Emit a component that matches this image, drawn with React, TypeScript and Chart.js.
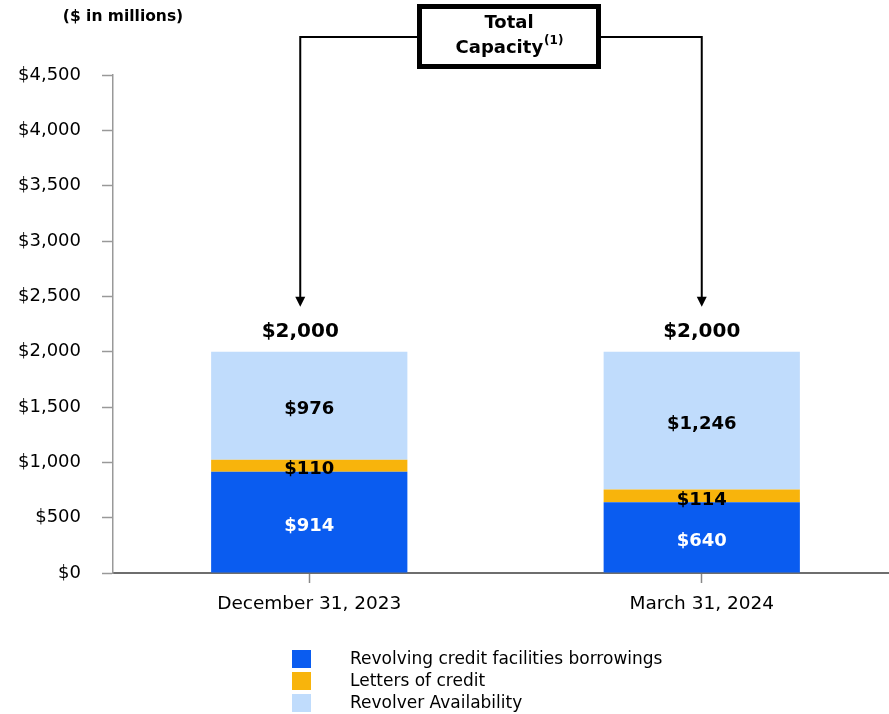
import React, { useEffect, useRef } from "react";
import { Chart, registerables } from "chart.js";

Chart.register(...registerables);

const categories = ["December 31, 2023", "March 31, 2024"];
const revolvingBorrowings = [914, 640];
const lettersOfCredit = [110, 114];
const revolverAvailability = [976, 1246];
const totalCapacity = [2000, 2000];
const seriesNames = [
  "Revolving credit facilities borrowings",
  "Letters of credit",
  "Revolver Availability",
];
const seriesColors = ["#0A5CF0", "#F8B40C", "#C0DCFC"];
const yTickValues = [0, 500, 1000, 1500, 2000, 2500, 3000, 3500, 4000, 4500];

const FONT = "'DejaVu Sans', sans-serif";
const fmt = (v: number) => "$" + v.toLocaleString("en-US");

const overlayPlugin = {
  id: "overlay",
  afterDatasetsDraw(chart: any) {
    const ctx = chart.ctx;
    ctx.save();
    ctx.textAlign = "center";
    ctx.textBaseline = "middle";
    chart.data.datasets.forEach((ds: any, di: number) => {
      const meta = chart.getDatasetMeta(di);
      meta.data.forEach((bar: any, i: number) => {
        const { x, y, base } = bar.getProps(["x", "y", "base"], true);
        ctx.font = `bold 18px ${FONT}`;
        ctx.fillStyle = di === 0 ? "#ffffff" : "#000000";
        ctx.fillText(fmt(ds.data[i]), x, (y + base) / 2 + 4);
      });
    });
    const yScale = chart.scales.y;
    const xScale = chart.scales.x;
    const shifts = [-9, 0];
    const arrowXs: number[] = [];
    totalCapacity.forEach((t, i) => {
      const cx = xScale.getPixelForValue(i) + shifts[i];
      arrowXs.push(cx);
      const ty = yScale.getPixelForValue(t);
      ctx.font = `bold 20px ${FONT}`;
      ctx.fillStyle = "#000";
      ctx.fillText(fmt(t), cx, ty - 20);
    });

    // Total capacity annotation
    const boxL = 417, boxR = 601, boxT = 4, boxB = 69;
    const lineY = 37;
    const tipY = yScale.getPixelForValue(totalCapacity[0]) - 45;
    ctx.strokeStyle = "#000";
    ctx.lineWidth = 2;
    ctx.beginPath();
    ctx.moveTo(boxL, lineY);
    ctx.lineTo(arrowXs[0], lineY);
    ctx.lineTo(arrowXs[0], tipY - 9);
    ctx.moveTo(boxR, lineY);
    ctx.lineTo(arrowXs[1], lineY);
    ctx.lineTo(arrowXs[1], tipY - 9);
    ctx.stroke();
    ctx.fillStyle = "#000";
    arrowXs.forEach((ax) => {
      ctx.beginPath();
      ctx.moveTo(ax - 5, tipY - 10);
      ctx.lineTo(ax + 5, tipY - 10);
      ctx.lineTo(ax, tipY);
      ctx.closePath();
      ctx.fill();
    });
    ctx.fillStyle = "#fff";
    ctx.fillRect(boxL, boxT, boxR - boxL, boxB - boxT);
    ctx.lineWidth = 5;
    ctx.strokeRect(boxL + 2.5, boxT + 2.5, boxR - boxL - 5, boxB - boxT - 5);
    ctx.fillStyle = "#000";
    const bcx = (boxL + boxR) / 2;
    ctx.font = `bold 18px ${FONT}`;
    ctx.fillText("Total", bcx, 23);
    const capW = ctx.measureText("Capacity").width;
    ctx.font = `bold 12px ${FONT}`;
    const supW = ctx.measureText("(1)").width;
    const startX = bcx - (capW + supW) / 2;
    ctx.textAlign = "left";
    ctx.font = `bold 18px ${FONT}`;
    ctx.fillText("Capacity", startX, 48);
    ctx.font = `bold 12px ${FONT}`;
    ctx.fillText("(1)", startX + capW + 1, 41);

    // Units label
    ctx.textAlign = "center";
    ctx.font = `bold 15.5px ${FONT}`;
    ctx.fillText("($ in millions)", 123, 17);

    // Legend
    ctx.textAlign = "left";
    ctx.font = `17px ${FONT}`;
    seriesNames.forEach((name, i) => {
      const y0 = 650 + i * 22;
      ctx.fillStyle = seriesColors[i];
      ctx.fillRect(292, y0, 19, 18);
      ctx.fillStyle = "#000";
      ctx.fillText(name, 350, y0 + 10);
    });
    ctx.restore();
  },
};

export default function App() {
  const ref = useRef<HTMLCanvasElement | null>(null);
  useEffect(() => {
    if (!ref.current) return;
    const chart = new Chart(ref.current, {
      type: "bar",
      data: {
        labels: categories,
        datasets: [
          { label: seriesNames[0], data: revolvingBorrowings, backgroundColor: seriesColors[0] },
          { label: seriesNames[1], data: lettersOfCredit, backgroundColor: seriesColors[1] },
          { label: seriesNames[2], data: revolverAvailability, backgroundColor: seriesColors[2] },
        ],
      },
      options: {
        responsive: false,
        animation: false,
        events: [],
        layout: { padding: { top: 75, right: 0, bottom: 0, left: 0 } },
        datasets: { bar: { barPercentage: 0.5, categoryPercentage: 1.0 } },
        plugins: { legend: { display: false }, tooltip: { enabled: false } },
        scales: {
          x: {
            stacked: true,
            grid: {
              display: true,
              drawOnChartArea: false,
              offset: false,
              tickLength: 10,
              tickColor: "#888888",
              tickWidth: 1.5,
            },
            border: { display: true, color: "#6e6e6e", width: 2 },
            ticks: { color: "#000", font: { family: FONT, size: 18.5 }, padding: 10 },
            afterFit: (s: any) => {
              s.height = 141;
            },
          },
          y: {
            stacked: true,
            min: 0,
            max: 4500,
            afterBuildTicks: (s: any) => {
              s.ticks = yTickValues.map((v) => ({ value: v }));
            },
            grid: {
              display: true,
              drawOnChartArea: false,
              tickLength: 11,
              tickColor: "#999999",
              tickWidth: 1.5,
            },
            border: { display: true, color: "#999999", width: 1.5 },
            ticks: {
              color: "#000",
              font: { family: FONT, size: 18 },
              padding: 21,
              callback: (v: any) => fmt(Number(v)),
            },
            afterFit: (s: any) => {
              s.width = 113;
            },
          },
        },
      },
      plugins: [overlayPlugin],
    });
    return () => chart.destroy();
  }, []);
  return (
    <div
      style={{
        position: "absolute",
        left: 0,
        top: 0,
        width: 889,
        height: 714,
        overflow: "hidden",
        background: "#fff",
      }}
    >
      <canvas ref={ref} width={898} height={714} style={{ display: "block" }} />
    </div>
  );
}
